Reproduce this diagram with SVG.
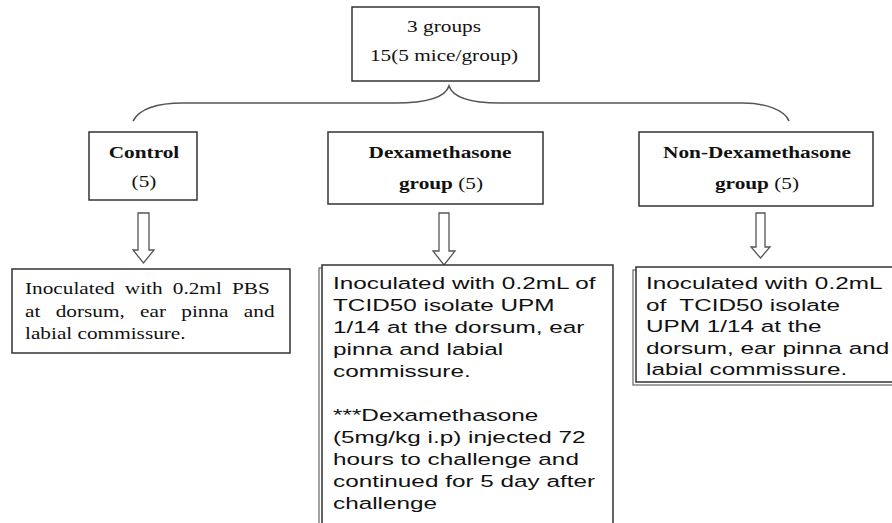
<svg xmlns="http://www.w3.org/2000/svg" width="892" height="523" viewBox="0 0 892 523">
<style>
.box{fill:#fff;stroke:#333;stroke-width:1.5}
.shadow{fill:none;stroke:#666;stroke-width:1.2}
.serif{font-family:"Liberation Serif","Times New Roman",serif;font-size:16px;fill:#111}
.b{font-weight:bold}
.sans{font-family:"Liberation Sans",Arial,sans-serif;font-size:17px;fill:#111}
.mid{text-anchor:middle}
.brace{fill:none;stroke:#555;stroke-width:1.6}
.arrow{fill:#fff;stroke:#555;stroke-width:1.3}
</style>
<rect width="892" height="523" fill="#fff"/>
<g id="connectors">
<path class="brace" d="M133,121 C140,108 160,103 183,103 L395,103 C425,103 445,98 449,86 C453,98 473,103 500,103 L743,103 C765,103 785,110 789,121"/>
<path class="arrow" d="M138,213 H149 V250 H154 L143.5,263 L133,250 H138 Z"/>
<path class="arrow" d="M439,213 H449 V251 H455 L444,265 L433,251 H439 Z"/>
<path class="arrow" d="M756,213 H765 V247 H770 L760.5,258 L751,247 H756 Z"/>
</g>
<g id="top">
<rect class="box" x="352" y="7" width="187" height="74"/>
<text class="serif mid" transform="translate(444,32) scale(1.33,1)">3 groups</text>
<text class="serif mid" transform="translate(444,61) scale(1.33,1)">15(5 mice/group)</text>
</g>
<g id="control">
<rect class="box" x="89" y="132" width="108" height="68"/>
<text class="serif b mid" transform="translate(144,158) scale(1.33,1)">Control</text>
<text class="serif mid" transform="translate(144,187) scale(1.33,1)">(5)</text>
</g>
<g id="dexamethasone">
<rect class="box" x="328" y="132" width="215" height="72"/>
<text class="serif b mid" transform="translate(440,158) scale(1.33,1)">Dexamethasone</text>
<text class="serif mid" transform="translate(441,189) scale(1.33,1)"><tspan class="b">group</tspan> (5)</text>
</g>
<g id="non-dexamethasone">
<rect class="box" x="639" y="132" width="234" height="74"/>
<text class="serif b mid" transform="translate(757,158) scale(1.33,1)">Non-Dexamethasone</text>
<text class="serif mid" transform="translate(757,189) scale(1.33,1)"><tspan class="b">group</tspan> (5)</text>
</g>
<g id="control-treatment">
<rect class="box" x="12" y="269" width="278" height="84"/>
<text class="serif" transform="translate(25,294) scale(1.33,1)" word-spacing="3.6">Inoculated with 0.2ml PBS</text>
<text class="serif" transform="translate(25,317) scale(1.33,1)" word-spacing="7.5">at dorsum, ear pinna and</text>
<text class="serif" transform="translate(25,339) scale(1.33,1)">labial commissure.</text>
</g>
<g id="dexamethasone-treatment">
<rect class="shadow" x="319" y="268" width="291" height="270"/>
<rect class="box" x="322" y="265" width="291" height="270"/>
<text class="sans" transform="translate(333,289) scale(1.43,1)">Inoculated with 0.2mL of</text>
<text class="sans" transform="translate(333,311) scale(1.43,1)">TCID50 isolate UPM</text>
<text class="sans" transform="translate(333,333) scale(1.43,1)">1/14 at the dorsum, ear</text>
<text class="sans" transform="translate(333,355) scale(1.43,1)">pinna and labial</text>
<text class="sans" transform="translate(333,377) scale(1.43,1)">commissure.</text>
<text class="sans" transform="translate(333,421) scale(1.43,1)">***Dexamethasone</text>
<text class="sans" transform="translate(333,443) scale(1.43,1)">(5mg/kg i.p) injected 72</text>
<text class="sans" transform="translate(333,465) scale(1.43,1)">hours to challenge and</text>
<text class="sans" transform="translate(333,487) scale(1.43,1)">continued for 5 day after</text>
<text class="sans" transform="translate(333,509) scale(1.43,1)">challenge</text>
</g>
<g id="non-dexamethasone-treatment">
<rect class="shadow" x="633" y="270" width="270" height="115"/>
<rect class="box" x="636" y="267" width="270" height="115"/>
<text class="sans" transform="translate(646,289) scale(1.43,1)">Inoculated with 0.2mL</text>
<text class="sans" transform="translate(646,310.5) scale(1.43,1)" xml:space="preserve">of  TCID50 isolate</text>
<text class="sans" transform="translate(646,332) scale(1.43,1)">UPM 1/14 at the</text>
<text class="sans" transform="translate(646,353.5) scale(1.43,1)">dorsum, ear pinna and</text>
<text class="sans" transform="translate(646,375) scale(1.43,1)">labial commissure.</text>
</g>
</svg>
